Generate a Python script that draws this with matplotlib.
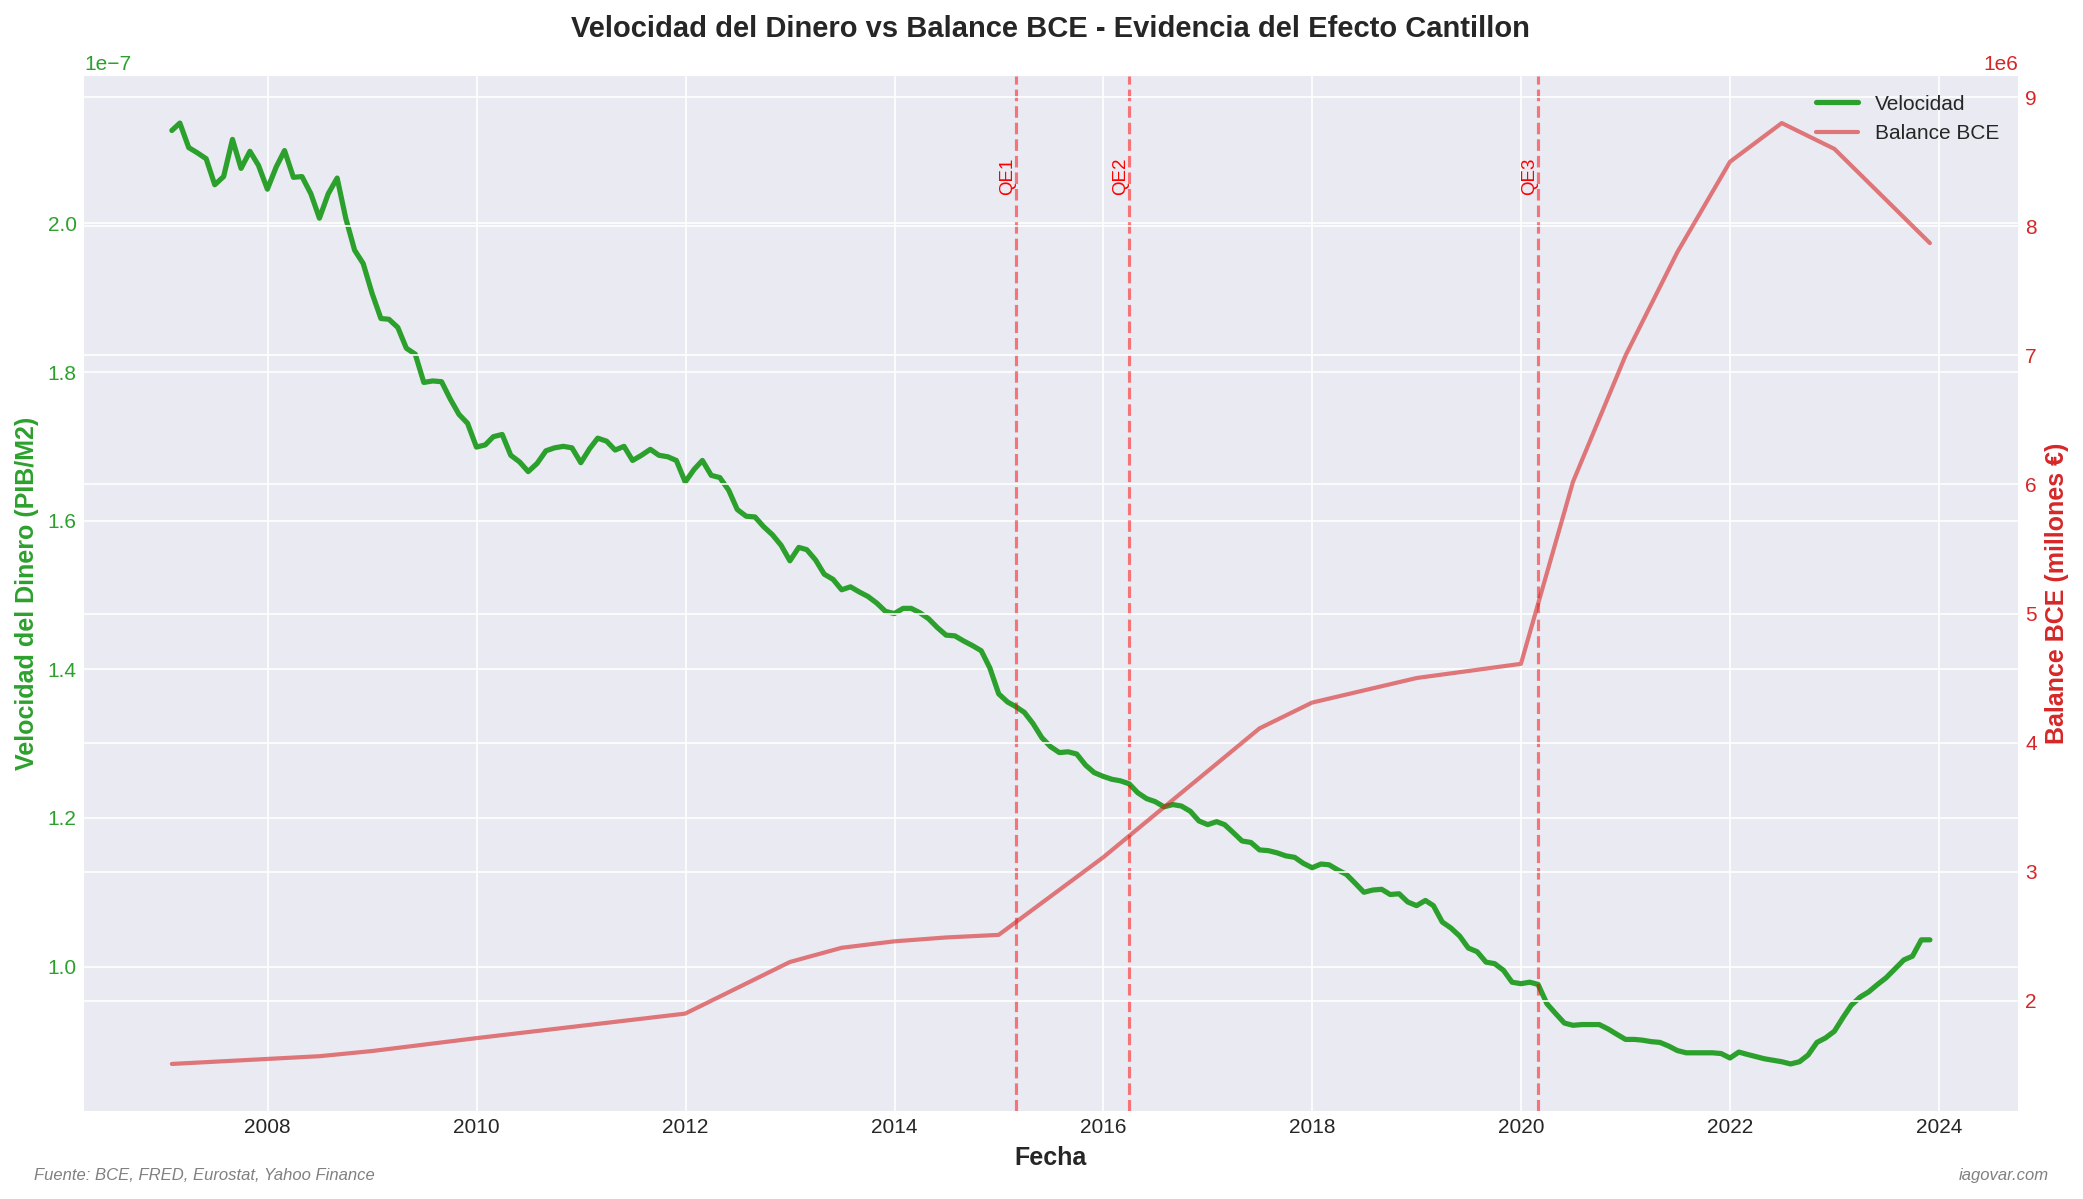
import pandas as pd
import matplotlib
matplotlib.use("Agg")
import matplotlib.pyplot as plt

plt.style.use("seaborn-v0_8-darkgrid")

# monthly velocity of money (PIB/M2), in units of 1e-7, month ends 2007-01 .. 2023-11
velocidad_e7 = [
    2.125, 2.135, 2.102, 2.095, 2.087, 2.052, 2.063, 2.113, 2.074, 2.097, 2.078, 2.046,
    2.076, 2.098, 2.062, 2.063, 2.040, 2.007, 2.040, 2.061, 2.007, 1.964, 1.946, 1.906,
    1.872, 1.871, 1.860, 1.832, 1.824, 1.786, 1.788, 1.787, 1.764, 1.743, 1.731, 1.699,
    1.702, 1.713, 1.716, 1.688, 1.679, 1.666, 1.677, 1.694, 1.698, 1.700, 1.698, 1.678,
    1.697, 1.711, 1.707, 1.695, 1.700, 1.681, 1.688, 1.696, 1.688, 1.686, 1.681, 1.652,
    1.669, 1.681, 1.661, 1.658, 1.641, 1.615, 1.606, 1.605, 1.592, 1.581, 1.567, 1.546,
    1.564, 1.561, 1.547, 1.528, 1.521, 1.507, 1.511, 1.504, 1.498, 1.489, 1.478, 1.475,
    1.482, 1.482, 1.476, 1.468, 1.456, 1.446, 1.445, 1.438, 1.432, 1.425, 1.402, 1.367,
    1.356, 1.350, 1.342, 1.327, 1.308, 1.296, 1.288, 1.289, 1.286, 1.271, 1.261, 1.256,
    1.252, 1.250, 1.246, 1.234, 1.226, 1.222, 1.215, 1.218, 1.216, 1.209, 1.196, 1.191,
    1.195, 1.191, 1.180, 1.169, 1.167, 1.157, 1.156, 1.153, 1.149, 1.147, 1.139, 1.133,
    1.138, 1.137, 1.130, 1.124, 1.112, 1.100, 1.103, 1.104, 1.097, 1.098, 1.087, 1.082,
    1.089, 1.082, 1.060, 1.052, 1.041, 1.025, 1.020, 1.006, 1.004, 0.995, 0.979, 0.977,
    0.979, 0.976, 0.950, 0.937, 0.924, 0.921, 0.922, 0.922, 0.922, 0.916, 0.909, 0.902,
    0.902, 0.901, 0.899, 0.898, 0.893, 0.887, 0.884, 0.884, 0.884, 0.884, 0.883, 0.877,
    0.885, 0.882, 0.879, 0.876, 0.874, 0.872, 0.869, 0.872, 0.881, 0.898, 0.904, 0.913,
    0.932, 0.948, 0.959, 0.966, 0.976, 0.985, 0.997, 1.009, 1.014, 1.036, 1.036,
]
fechas_vel = pd.date_range("2007-01-31", periods=len(velocidad_e7), freq="ME")

# ECB balance sheet (millones de euros)
fechas_bce = pd.to_datetime([
    "2007-01-31", "2008-06-30", "2008-12-31", "2009-12-31", "2011-12-31",
    "2012-12-31", "2013-06-30", "2013-12-31", "2014-06-30", "2014-12-31",
    "2015-12-31", "2017-06-30", "2017-12-31", "2018-12-31", "2019-12-31",
    "2020-06-30", "2020-12-31", "2021-06-30", "2021-12-31", "2022-06-30",
    "2022-12-31", "2023-11-30",
])
balance_bce = [
    1510000, 1570000, 1610000, 1710000, 1900000,
    2300000, 2410000, 2460000, 2490000, 2510000,
    3110000, 4110000, 4310000, 4500000, 4610000,
    6020000, 7000000, 7800000, 8500000, 8800000,
    8600000, 7870000,
]

qe_fechas = pd.to_datetime(["2015-03-01", "2016-04-01", "2020-03-01"])
qe_labels = ["QE1", "QE2", "QE3"]

verde = "#2ca02c"
rojo = "#d62728"

fig, ax1 = plt.subplots(figsize=(2083 / 150, 1199 / 150), dpi=150)
fig.subplots_adjust(left=0.0403, right=0.9687, bottom=0.0734, top=0.9366)

ax1.plot(fechas_vel, [v * 1e-7 for v in velocidad_e7], color=verde,
         linewidth=2.5, label="Velocidad")
ax1.set_xlabel("Fecha", fontsize=12, fontweight="bold")
ax1.set_ylabel("Velocidad del Dinero (PIB/M2)", color=verde,
               fontsize=12, fontweight="bold")
ax1.tick_params(axis="y", labelcolor=verde)

ax2 = ax1.twinx()
ax2.plot(fechas_bce, balance_bce, color=rojo, linewidth=2, alpha=0.6,
         label="Balance BCE")
ax2.set_ylabel("Balance BCE (millones €)", color=rojo,
               fontsize=12, fontweight="bold")
ax2.tick_params(axis="y", labelcolor=rojo)

# QE markers
ytop = ax1.get_ylim()[1] * 0.95
for fecha, lab in zip(qe_fechas, qe_labels):
    ax1.axvline(fecha, color="red", linestyle="--", alpha=0.5, linewidth=1.5)
    ax1.text(fecha, ytop, lab, rotation=90, color="red", fontsize=9,
             va="top", ha="right")

h1, l1 = ax1.get_legend_handles_labels()
h2, l2 = ax2.get_legend_handles_labels()
ax2.legend(h1 + h2, l1 + l2, loc="upper right", fontsize=10)

ax1.set_title("Velocidad del Dinero vs Balance BCE - Evidencia del Efecto Cantillon",
              fontsize=14, fontweight="bold", pad=18.5)

fig.text(0.0163, 0.02, "Fuente: BCE, FRED, Eurostat, Yahoo Finance",
         fontsize=8, style="italic", color="gray", va="center")
fig.text(0.9837, 0.02, "iagovar.com", fontsize=8, style="italic",
         color="gray", ha="right", va="center")

fig.savefig("out.png", dpi=150)
